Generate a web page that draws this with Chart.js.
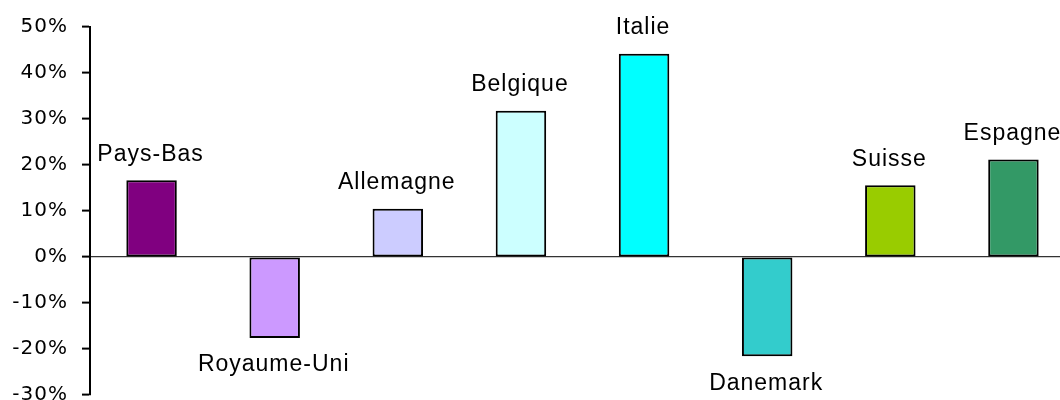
<!DOCTYPE html>
<html>
<head>
<meta charset="utf-8">
<script src="https://cdn.jsdelivr.net/npm/chart.js@4/dist/chart.umd.min.js"></script>
<style>
  html, body { margin: 0; padding: 0; background: #fff; overflow: hidden; }
  #wrap { width: 1075px; height: 421px; }
</style>
</head>
<body>
<div id="wrap"><canvas id="chart" width="1075" height="421"></canvas></div>
<script>
const countries = ["Pays-Bas", "Royaume-Uni", "Allemagne", "Belgique", "Italie", "Danemark", "Suisse", "Espagne"];
const values = [16.7, -17.6, 10.5, 31.8, 44.2, -21.6, 15.6, 21.2];
const barColors = ["#800080", "#CC99FF", "#CCCCFF", "#CCFFFF", "#00FFFF", "#33CCCC", "#99CC00", "#339966"];
const yTicks = [-30, -20, -10, 0, 10, 20, 30, 40, 50];

const FONT = "'Liberation Sans', Arial, sans-serif";
const TICK_FONT = "'DejaVu Sans', sans-serif";

// wider tick text like the original export
const spacing = {
  id: 'spacing',
  beforeDraw(chart) { chart.ctx.letterSpacing = '1px'; },
  beforeDatasetsDraw(chart) { chart.ctx.letterSpacing = '0px'; }
};

// country names above / below each bar
const barLabels = {
  id: 'barLabels',
  afterDatasetsDraw(chart) {
    const ctx = chart.ctx;
    const meta = chart.getDatasetMeta(0);
    ctx.save();
    ctx.letterSpacing = '1px';
    ctx.font = '23px ' + FONT;
    ctx.fillStyle = '#000';
    ctx.textAlign = 'center';
    ctx.textBaseline = 'alphabetic';
    meta.data.forEach((bar, i) => {
      const y = values[i] >= 0 ? bar.y - 19.5 : bar.y + 33.5;
      ctx.fillText(countries[i], bar.x - 1, y);
    });
    ctx.restore();
  }
};

new Chart(document.getElementById('chart'), {
  type: 'bar',
  data: {
    labels: countries,
    datasets: [{
      data: values,
      backgroundColor: barColors,
      borderColor: '#000',
      borderWidth: 2,
      borderSkipped: false,
      barPercentage: 0.41,
      categoryPercentage: 1
    }]
  },
  options: {
    responsive: false,
    animation: false,
    layout: { padding: { top: 27, bottom: 19.3, left: 0, right: 0 } },
    plugins: { legend: { display: false }, tooltip: { enabled: false } },
    scales: {
      x: { display: false },
      y: {
        min: -30,
        max: 50,
        afterFit(scale) { scale.width = 90; },
        afterBuildTicks(scale) { scale.ticks = yTicks.map(v => ({ value: v })); },
        border: { display: true, color: '#000', width: 2 },
        grid: {
          drawOnChartArea: true,
          color: c => (c.tick && c.tick.value === 0) ? '#333' : 'rgba(0,0,0,0)',
          lineWidth: 1.2,
          tickColor: '#000',
          tickLength: 8,
          tickWidth: 2
        },
        ticks: {
          padding: 14,
          color: '#000',
          font: { family: TICK_FONT, size: 20 },
          callback: v => v + '%'
        }
      }
    }
  },
  plugins: [spacing, barLabels]
});
</script>
</body>
</html>
